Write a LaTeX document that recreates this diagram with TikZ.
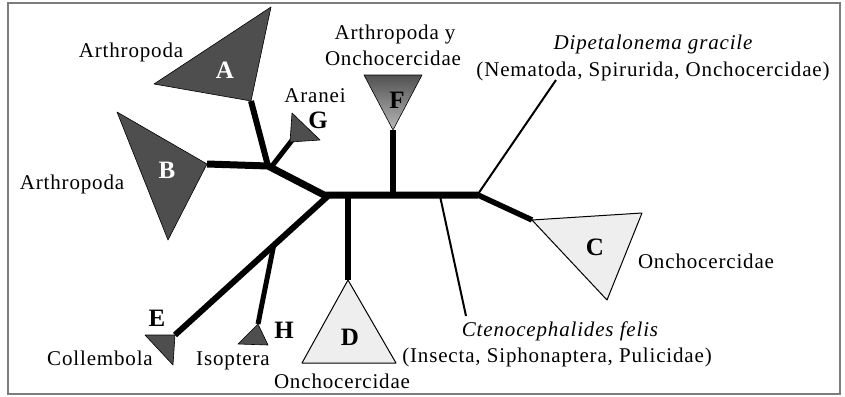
\documentclass[tikz,border=0pt]{standalone}
\usepackage{fontspec}
\setmainfont{Liberation Serif}[LetterSpace=4]
\usetikzlibrary{calc}
\definecolor{dk}{RGB}{78,78,78}
\definecolor{lt}{RGB}{238,238,238}
\definecolor{frm}{RGB}{125,125,125}
\begin{document}
\begin{tikzpicture}[x=1pt,y=-1pt,
  lbl/.style={font=\fontsize{21}{24}\selectfont, inner sep=0pt, anchor=base},
  ilbl/.style={font=\fontsize{21}{24}\selectfont\itshape, inner sep=0pt, anchor=base},
  letter/.style={font=\fontsize{25}{27}\selectfont\bfseries, inner sep=0pt},
  mainline/.style={line width=7pt, line join=round},
  stemline/.style={line width=6pt},
  thinline/.style={line width=2pt},
  darktri/.style={fill=dk, draw=black, line width=0.6pt, line join=round},
  lighttri/.style={fill=lt, draw=black, line width=1pt, line join=round}
]
\useasboundingbox (0,0) rectangle (845,396);
\draw[frm, line width=1.5pt] (8,3) rectangle (840,394);

% junction / end coordinates
\coordinate (bV) at (207,164);
\coordinate (jAB) at (268,166);
\coordinate (jL) at (324,195);
\coordinate (jR) at (478,195);
\coordinate (cV) at (532,220);
\coordinate (aV) at (251,101);
\coordinate (gJ) at (272,166);
\coordinate (gV) at (293,139);
\coordinate (fJ) at (393,195);
\coordinate (fV) at (393,130);
\coordinate (dJ) at (348,195);
\coordinate (dV) at (348,280);
\coordinate (eJ) at (328,196);
\coordinate (eV) at (175,335);
\coordinate (hJ) at ($(eJ)!0.355!(eV)$);
\coordinate (hV) at (258,324);
\coordinate (ctJ) at (440,196);
\coordinate (ctE) at (466,316);
\coordinate (dpJ) at (478,194);
\coordinate (dpE) at (556,80);

% branches
\draw[mainline] (bV) -- (jAB) -- (jL) -- (jR);
\draw[line width=5.5pt, line join=round] (jR) -- (cV);
\draw[stemline] (aV) -- (jAB);
\draw[line width=5pt] (gJ) -- (gV);
\draw[stemline] (fJ) -- (fV);
\draw[stemline] (dJ) -- (dV);
\draw[line width=6pt] (eJ) -- (eV);
\draw[line width=5pt] (hJ) -- (hV);
\draw[thinline] (ctJ) -- (ctE);
\draw[thinline] (dpJ) -- (dpE);

% triangles
\path[darktri] (154,84) -- (271,7) -- (aV) -- cycle;
\path[darktri] (117,112) -- (bV) -- (168,240) -- cycle;
\path[darktri] (292,113) -- (320,140) -- (290,142) -- cycle;
\path[darktri] (145,335) -- (eV) -- (173,365) -- cycle;
\path[darktri] (hV) -- (238,344) -- (268,345) -- cycle;
\path[top color=black!68, bottom color=black!28, draw=black, line width=0.6pt, line join=round] (364,75) -- (422,75) -- (fV) -- cycle;
\path[lighttri] (dV) -- (302,363) -- (396,363) -- cycle;
\path[lighttri] (cV) -- (642,213) -- (607,300) -- cycle;

% letters
\node[letter, white] (lA) at (225,70) {A};
\node[letter, white] (lB) at (167,170) {B};
\node[letter] (lC) at (595,247) {C};
\node[letter] (lD) at (350,337) {D};
\node[letter] (lE) at (157,318) {E};
\node[letter] (lF) at (397,100) {F};
\node[letter] (lG) at (318,120) {G};
\node[letter] (lH) at (284,330) {H};

% labels
\node[lbl] (tA) at (131,57) {Arthropoda};
\node[lbl] (tB) at (72,189) {Arthropoda};
\node[lbl] (tG) at (315,102) {Aranei};
\node[lbl] (tF1) at (395,40) {Arthropoda y};
\node[lbl] (tF2) at (393,66) {Onchocercidae};
\node[ilbl] (tDp1) at (653,50) {Dipetalonema gracile};
\node[lbl] (tDp2) at (653,77) {(Nematoda, Spirurida, Onchocercidae)};
\node[lbl] (tC) at (706,268) {Onchocercidae};
\node[ilbl] (tCt1) at (560,336) {Ctenocephalides felis};
\node[lbl] (tCt2) at (557,362) {(Insecta, Siphonaptera, Pulicidae)};
\node[lbl] (tE) at (100,365) {Collembola};
\node[lbl] (tH) at (233,365) {Isoptera};
\node[lbl] (tD) at (342,388) {Onchocercidae};
\end{tikzpicture}
\end{document}
